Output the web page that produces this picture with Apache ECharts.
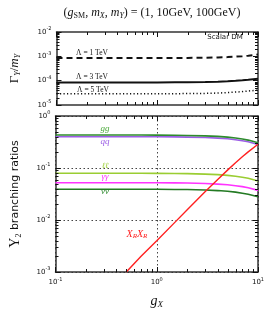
<!DOCTYPE html>
<html><head><meta charset="utf-8">
<script src="https://cdn.jsdelivr.net/npm/echarts@6/dist/echarts.min.js"></script>
<style>html,body{margin:0;padding:0;background:#fff}#c{width:274px;height:314px}</style>
</head><body><div id="c"></div>
<script>
// ---- data ----
const gX = [0.1, 0.2, 0.3, 0.5, 0.7, 1, 1.5, 2, 3, 4, 5, 6, 7, 8, 10];
const width1TeV = [8.5e-4, 8.5e-4, 8.5e-4, 8.5e-4, 8.5e-4, 8.5e-4, 8.55e-4, 8.6e-4, 8.8e-4, 9.0e-4, 9.3e-4, 9.7e-4, 1.01e-3, 1.06e-3, 1.2e-3];
const width3TeV = [8.5e-5, 8.5e-5, 8.5e-5, 8.5e-5, 8.5e-5, 8.5e-5, 8.55e-5, 8.6e-5, 8.8e-5, 9.1e-5, 9.5e-5, 1.0e-4, 1.05e-4, 1.1e-4, 1.2e-4];
const width5TeV = [2.9e-5, 2.9e-5, 2.9e-5, 2.9e-5, 2.9e-5, 2.9e-5, 2.92e-5, 2.95e-5, 3.0e-5, 3.1e-5, 3.25e-5, 3.4e-5, 3.55e-5, 3.75e-5, 4.1e-5];
const brGG = [0.43, 0.43, 0.43, 0.43, 0.43, 0.428, 0.426, 0.423, 0.415, 0.405, 0.392, 0.377, 0.361, 0.344, 0.306];
const brQQ = [0.40, 0.40, 0.40, 0.40, 0.40, 0.398, 0.396, 0.393, 0.386, 0.376, 0.364, 0.350, 0.335, 0.319, 0.284];
const brLL = [0.079, 0.079, 0.079, 0.079, 0.079, 0.0788, 0.0785, 0.0779, 0.0763, 0.0745, 0.0722, 0.0695, 0.0665, 0.0634, 0.0564];
const brAA = [0.052, 0.052, 0.052, 0.052, 0.052, 0.0519, 0.0517, 0.0513, 0.0502, 0.049, 0.0475, 0.0457, 0.0438, 0.0417, 0.0371];
const brNN = [0.039, 0.039, 0.039, 0.039, 0.039, 0.0389, 0.0387, 0.0385, 0.0377, 0.0368, 0.0356, 0.0343, 0.0328, 0.0313, 0.0279];
const gXX = [0.5, 0.7, 1, 1.5, 2, 3, 4, 5, 6, 7, 8, 10];
const brXX = [0.001, 0.0020, 0.0040, 0.0089, 0.0158, 0.035, 0.060, 0.091, 0.126, 0.164, 0.204, 0.286];

const pair = (xs, ys) => xs.map((x, i) => [x, ys[i]]);

const chart = echarts.init(document.getElementById('c'), null, {renderer: 'canvas'});
const AX = '#333';
const sup = {b: {fontSize: 7, fontFamily: 'DejaVu Sans', color: '#111'}, s: {fontSize: 5, fontFamily: 'DejaVu Sans', color: '#111', padding: [0, 0, 6, 0]}};
const logLabel = v => { const e = Math.round(Math.log10(v)); return '{b|10}{s|' + e + '}'; };

function xAx(grid, pos, labels, extra) {
  return Object.assign({
    type: 'log', logBase: 10, min: 0.1, max: 10, gridIndex: grid, position: pos,
    axisLine: {show: true, lineStyle: {color: AX, width: 1.5}},
    axisTick: {show: true, inside: true, length: 5, lineStyle: {color: '#111', width: 1}},
    axisLabel: labels ? {show: true, formatter: logLabel, rich: sup, margin: 5} : {show: false},
    splitLine: {show: false}, minorTick: {show: false}
  }, extra || {});
}
function yAx(grid, pos, min, max, labels, extra) {
  return Object.assign({
    type: 'log', logBase: 10, min: min, max: max, gridIndex: grid, position: pos,
    axisLine: {show: true, lineStyle: {color: AX, width: 1.5}},
    axisTick: {show: true, inside: true, length: 5, lineStyle: {color: '#111', width: 1}},
    axisLabel: labels ? {show: true, formatter: logLabel, rich: sup, margin: 5} : {show: false},
    splitLine: {show: false}, minorTick: {show: false}
  }, extra || {});
}
const dotted = {show: true, lineStyle: {type: [1.5, 2.5], color: '#444', width: 1}};

function line(xi, yi, data, color, w, type) {
  return {type: 'line', xAxisIndex: xi, yAxisIndex: yi, data: data, showSymbol: false, symbol: 'none',
    lineStyle: {color: color, width: w, type: type || 'solid'}, silent: true, animation: false, z: 3};
}

const serifRich = {
  t: {fontFamily: 'Liberation Serif', fontSize: 12, fill: '#111'},
  i: {fontFamily: 'Liberation Serif', fontStyle: 'italic', fontSize: 12, fill: '#111'},
  sub: {fontFamily: 'Liberation Serif', fontSize: 8, fill: '#111', padding: [5, 0, 0, 0]},
  subi: {fontFamily: 'Liberation Serif', fontStyle: 'italic', fontSize: 8, fill: '#111', padding: [5, 0, 0, 0]}
};

const texts = [
  {type: 'text', x: 152, y: 13, style: {
    text: '{t|(}{i|g}{sub|SM}{t|, }{i|m}{subi|X}{t|, }{i|m}{subi|Y}{t|) = (1, 10GeV, 100GeV)}',
    rich: serifRich, align: 'center', verticalAlign: 'middle'}},
  {type: 'text', x: 225, y: 37, style: {text: 'Scalar DM', font: '7px "DejaVu Sans"', fill: '#111', align: 'center', verticalAlign: 'middle'}},
  {type: 'text', x: 92, y: 53, style: {text: 'Λ = 1 TeV', font: '7.5px "Liberation Serif"', fill: '#111', align: 'center', verticalAlign: 'middle'}},
  {type: 'text', x: 92, y: 77, style: {text: 'Λ = 3 TeV', font: '7.5px "Liberation Serif"', fill: '#111', align: 'center', verticalAlign: 'middle'}},
  {type: 'text', x: 93, y: 90, style: {text: 'Λ = 5 TeV', font: '7.5px "Liberation Serif"', fill: '#111', align: 'center', verticalAlign: 'middle'}},
  {type: 'text', x: 105, y: 129, style: {text: 'gg', font: 'italic 9px "Liberation Serif"', fill: '#4caa3c', align: 'center', verticalAlign: 'middle'}},
  {type: 'text', x: 105, y: 142, style: {text: 'qq', font: 'italic 9px "Liberation Serif"', fill: '#9b5de5', align: 'center', verticalAlign: 'middle'}},
  {type: 'text', x: 105, y: 166, style: {text: 'ℓℓ', font: 'italic 8px "DejaVu Serif"', fill: '#9acd32', align: 'center', verticalAlign: 'middle'}},
  {type: 'text', x: 105, y: 177, style: {text: 'γγ', font: 'italic 9px "Liberation Serif"', fill: '#ff33ff', align: 'center', verticalAlign: 'middle'}},
  {type: 'text', x: 105, y: 192, style: {text: 'νν', font: 'italic 9px "Liberation Serif"', fill: '#2e8b2e', align: 'center', verticalAlign: 'middle'}},
  {type: 'text', x: 137, y: 234, style: {
    text: '{i|X}{s|R}{i|X}{s|R}', align: 'center', verticalAlign: 'middle', fill: '#ff2020',
    rich: {i: {fontFamily: 'Liberation Serif', fontStyle: 'italic', fontSize: 10, fill: '#ff2020'},
           s: {fontFamily: 'Liberation Serif', fontStyle: 'italic', fontSize: 7, fill: '#ff2020', padding: [4, 0, 0, 0]}}}}
];

const option = {
  animation: false,
  grid: [
    {left: 51, right: 16, top: 32, height: 73},
    {left: 51, right: 16, top: 116, height: 156}
  ],
  xAxis: [
    xAx(0, 'bottom', false),
    xAx(1, 'bottom', true, {
      splitLine: dotted,
      name: '{i|g}{subi|X}', nameLocation: 'middle', nameGap: 22,
      nameTextStyle: {rich: {
        i: {fontFamily: 'Liberation Serif', fontStyle: 'italic', fontSize: 14, color: '#111'},
        subi: {fontFamily: 'Liberation Serif', fontStyle: 'italic', fontSize: 9, color: '#111', padding: [6, 0, 0, 0]}
      }}
    }),
    xAx(0, 'top', false),
    xAx(1, 'top', false)
  ],
  yAxis: [
    yAx(0, 'left', 1e-5, 1e-2, true, {
      name: '{t|Γ}{subi|Y}{t|/}{i|m}{subi|Y}', nameLocation: 'middle', nameGap: 35, nameRotate: 90,
      nameTextStyle: {rich: {
        t: {fontFamily: 'Liberation Serif', fontSize: 13, color: '#111'},
        i: {fontFamily: 'Liberation Serif', fontStyle: 'italic', fontSize: 13, color: '#111'},
        subi: {fontFamily: 'Liberation Serif', fontStyle: 'italic', fontSize: 8, color: '#111', padding: [6, 0, 0, 0]}
      }}
    }),
    yAx(1, 'left', 1e-3, 1, true, {
      splitLine: dotted,
      name: '{i|Y}{sub|2}{t| branching ratios}', nameLocation: 'middle', nameGap: 33, nameRotate: 90,
      nameTextStyle: {rich: {
        i: {fontFamily: 'Liberation Serif', fontSize: 14, color: '#111'},
        sub: {fontFamily: 'Liberation Serif', fontSize: 8, color: '#111', padding: [7, 0, 0, 0]},
        t: {fontFamily: 'DejaVu Sans', fontSize: 11, color: '#111'}
      }}
    }),
    yAx(0, 'right', 1e-5, 1e-2, false),
    yAx(1, 'right', 1e-3, 1, false)
  ],
  series: [
    line(0, 0, pair(gX, width1TeV), '#111', 2, [6, 4]),
    line(0, 0, pair(gX, width3TeV), '#111', 2),
    line(0, 0, pair(gX, width5TeV), '#111', 1.5, [1.2, 2.3]),
    line(1, 1, pair(gX, brQQ), '#9b5de5', 1.6),
    line(1, 1, pair(gX, brGG), '#2e8b2e', 1.6),
    line(1, 1, pair(gX, brLL), '#9acd32', 1.6),
    line(1, 1, pair(gX, brAA), '#ff33ff', 1.6),
    line(1, 1, pair(gX, brNN), '#237a23', 1.6),
    line(1, 1, pair(gXX, brXX), '#ff2020', 1.4)
  ],
  graphic: texts
};
chart.setOption(option);

// minor tick marks (2..9 in each decade) on all four sides, placed through the axes' own scales
function minors(lo, hi) {
  const out = [];
  for (let d = lo; d < hi * 0.999; d *= 10) for (let k = 2; k <= 9; k++) out.push(d * k);
  return out;
}
const zr = chart.getZr();
const snap = v => Math.round(v) + 0.5;
function seg(x1, y1, x2, y2) {
  zr.add(new echarts.graphic.Line({
    shape: {x1: x1, y1: y1, x2: x2, y2: y2},
    style: {stroke: '#111', lineWidth: 1}, z: 100, silent: true
  }));
}
function addTicks(si, xmin, xmax, ymin, ymax) {
  const px = p => chart.convertToPixel({seriesIndex: si}, p);
  const L = 3;
  minors(xmin, xmax).forEach(v => {
    const a = px([v, ymin]), b = px([v, ymax]);
    if (!a || !b) return;
    const x = snap(a[0]);
    seg(x, a[1], x, a[1] - L);
    seg(x, b[1], x, b[1] + L);
  });
  minors(ymin, ymax).forEach(v => {
    const a = px([xmin, v]), b = px([xmax, v]);
    if (!a || !b) return;
    const y = snap(a[1]);
    seg(a[0], y, a[0] + L, y);
    seg(b[0], y, b[0] - L, y);
  });
}
try { addTicks(0, 0.1, 10, 1e-5, 1e-2); } catch (e) { console.error(e); }
try { addTicks(3, 0.1, 10, 1e-3, 1); } catch (e) { console.error(e); }
</script></body></html>
